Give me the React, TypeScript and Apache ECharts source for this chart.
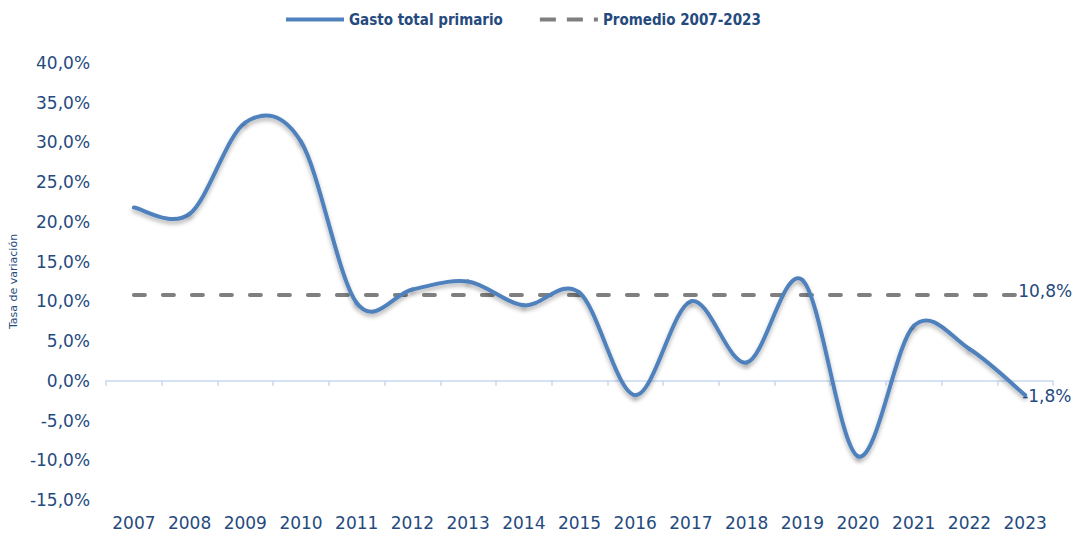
import React, { useEffect, useRef } from "react";
import * as echarts from "echarts";

const years = ["2007","2008","2009","2010","2011","2012","2013","2014","2015","2016","2017","2018","2019","2020","2021","2022","2023"];
const gastoTotal = [21.8, 21.0, 32.5, 30.1, 9.8, 11.5, 12.5, 9.5, 11.1, -1.8, 10.0, 2.3, 12.7, -9.5, 6.9, 4.0, -1.8];
const promedioValue = 10.8;
const promedio = years.map(() => promedioValue);
const yTicks = { min: -15, max: 40, interval: 5 };

const TEXT = "#254a7e";
const BLUE = "#4f81bd";
const GRAY = "#7f7f7f";
const FONT = "DejaVu Sans";
const LEGEND_FONT = "'Liberation Sans Narrow', 'DejaVu Sans Condensed', 'Liberation Sans', sans-serif";

const fmt = (v: number) => v.toFixed(1).replace(".", ",") + "%";

export default function App() {
  const ref = useRef<HTMLDivElement>(null);
  useEffect(() => {
    if (!ref.current) return;
    const chart = echarts.init(ref.current, undefined, { renderer: "svg" });
    const n = gastoTotal.length;
    const renderCurve = (params: any, api: any) => {
      const i = params.dataIndex;
      const pt = (j: number) => {
        const k = Math.max(0, Math.min(n - 1, j));
        return api.coord([k, gastoTotal[k]]);
      };
      if (i === n - 1) {
        const p = pt(i);
        return {
          type: "text",
          x: p[0] - 3,
          y: p[1] + 1,
          style: {
            text: fmt(gastoTotal[i]),
            fill: TEXT,
            fontSize: 17,
            fontFamily: FONT,
            align: "left",
            verticalAlign: "middle",
          },
          z2: 10,
        };
      }
      const p0 = pt(i - 1), p1 = pt(i), p2 = pt(i + 1), p3 = pt(i + 2);
      return {
        type: "bezierCurve",
        shape: {
          x1: p1[0],
          y1: p1[1],
          cpx1: p1[0] + (p2[0] - p0[0]) / 6,
          cpy1: p1[1] + (p2[1] - p0[1]) / 6,
          cpx2: p2[0] - (p3[0] - p1[0]) / 6,
          cpy2: p2[1] - (p3[1] - p1[1]) / 6,
          x2: p2[0],
          y2: p2[1],
        },
        style: {
          stroke: BLUE,
          fill: "none",
          lineWidth: 4,
          lineCap: "round",
          shadowColor: "rgba(0,0,0,0.3)",
          shadowBlur: 4,
          shadowOffsetY: 3,
        },
      };
    };
    chart.setOption({
      animation: false,
      backgroundColor: "#ffffff",
      legend: {
        top: 7,
        left: 281,
        itemWidth: 58,
        itemHeight: 14,
        itemGap: 37,
        symbolKeepAspect: true,
        textStyle: { color: TEXT, fontFamily: LEGEND_FONT, fontWeight: "bold", fontSize: 15 },
        data: [
          { name: "Gasto total primario", icon: "path://M0,0H58V4H0Z", itemStyle: { color: BLUE } },
          {
            name: "Promedio 2007-2023",
            icon: "path://M0,0H16V4H0Z M27,0H43V4H27Z M54,0H58V4H54Z",
            itemStyle: { color: GRAY },
          },
        ],
      },
      grid: { left: 105, right: 20, top: 63, bottom: 33, containLabel: false },
      xAxis: [
        {
          type: "category",
          data: years,
          boundaryGap: true,
          position: "bottom",
          axisLine: { show: true, onZero: true, lineStyle: { color: "#c6d9f0", width: 1.5 } },
          axisTick: { show: true, length: 5, alignWithLabel: false, lineStyle: { color: "#c6d9f0", width: 1.5 } },
          axisLabel: { show: false },
          splitLine: { show: false },
        },
        {
          type: "category",
          data: years,
          boundaryGap: true,
          position: "bottom",
          axisLine: { show: false, onZero: false },
          axisTick: { show: false },
          axisLabel: { show: true, color: TEXT, fontFamily: FONT, fontSize: 17, margin: 14, interval: 0 },
          splitLine: { show: false },
        },
      ],
      yAxis: {
        type: "value",
        min: yTicks.min,
        max: yTicks.max,
        interval: yTicks.interval,
        name: "Tasa de variación",
        nameLocation: "middle",
        nameGap: 86,
        nameTextStyle: { color: TEXT, fontFamily: FONT, fontSize: 11 },
        axisLine: { show: false },
        axisTick: { show: false },
        splitLine: { show: false },
        axisLabel: { color: TEXT, fontFamily: FONT, fontSize: 17, margin: 16, formatter: (v: number) => fmt(v) },
      },
      series: [
        {
          name: "Promedio 2007-2023",
          type: "line",
          xAxisIndex: 0,
          data: promedio,
          symbol: "none",
          lineStyle: {
            color: GRAY,
            width: 4,
            type: [11, 18],
            cap: "round",
          },
          itemStyle: { color: GRAY },
          endLabel: {
            show: true,
            formatter: () => fmt(promedioValue),
            color: TEXT,
            fontFamily: FONT,
            fontSize: 17,
            distance: 0,
            offset: [-7, -4],
          },
          z: 2,
        },
        {
          name: "Gasto total primario",
          type: "custom",
          xAxisIndex: 0,
          data: gastoTotal.map((v, i) => [i, v]),
          encode: { x: 0, y: 1 },
          itemStyle: { color: BLUE },
          renderItem: renderCurve,
          z: 3,
        },
      ],
    });
    return () => chart.dispose();
  }, []);
  return <div ref={ref} style={{ position: "fixed", left: 0, top: 0, width: 1073, height: 533 }} />;
}
